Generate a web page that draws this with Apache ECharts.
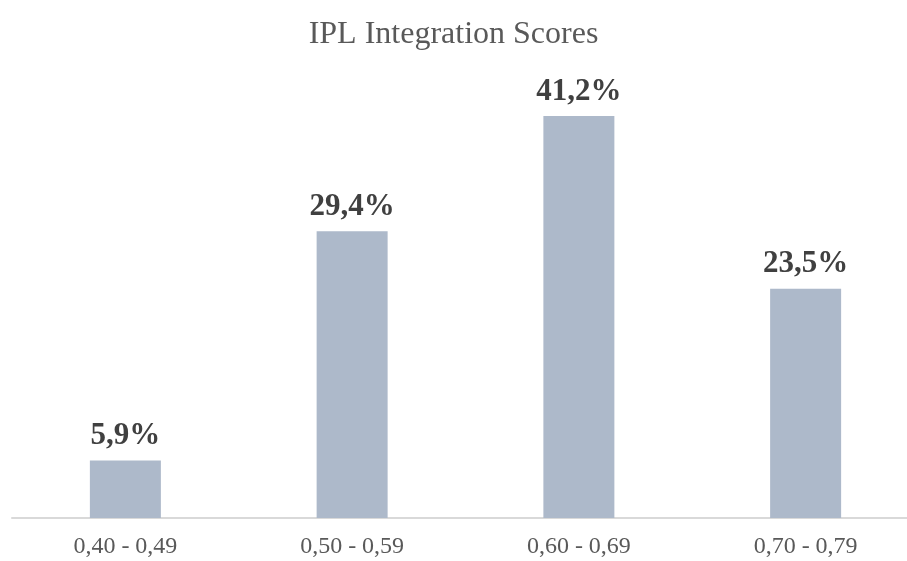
<!DOCTYPE html>
<html>
<head>
<meta charset="UTF-8">
<title>IPL Integration Scores</title>
<script src="https://cdn.jsdelivr.net/npm/echarts@6/dist/echarts.min.js"></script>
<style>
  html, body { margin: 0; padding: 0; background: #fff; }
</style>
</head>
<body>
<div id="container" style="width: 907px; height: 561px;"></div>
<script>
// score ranges and share of participants (%)
var categories = ['0,40 - 0,49', '0,50 - 0,59', '0,60 - 0,69', '0,70 - 0,79'];
var shares = [5.9, 29.4, 41.2, 23.5];

var chart = echarts.init(document.getElementById('container'));

var option = {
    animation: false,
    title: {
        text: 'IPL Integration Scores',
        left: 'center',
        top: 14,
        textStyle: {
            fontFamily: 'Liberation Serif',
            fontWeight: 'normal',
            fontSize: 32,
            color: '#595959'
        }
    },
    grid: {
        left: 12,
        right: -12,
        top: 79,
        bottom: 43,
        outerBoundsMode: 'none'
    },
    xAxis: {
        type: 'category',
        data: categories,
        axisLine: { lineStyle: { color: '#d9d9d9', width: 2 } },
        axisTick: { show: false },
        axisLabel: {
            fontFamily: 'Liberation Serif',
            fontSize: 24,
            color: '#595959',
            margin: 17
        }
    },
    yAxis: {
        type: 'value',
        min: 0,
        max: 45,
        show: false
    },
    series: [{
        type: 'bar',
        data: shares,
        barWidth: 71,
        itemStyle: { color: '#adb9ca' },
        label: {
            show: true,
            position: 'top',
            distance: 9,
            formatter: function (p) {
                return p.value.toFixed(1).replace('.', ',') + '%';
            },
            fontFamily: 'Liberation Serif',
            fontWeight: 'bold',
            fontSize: 31,
            color: '#404040'
        }
    }]
};

chart.setOption(option);
</script>
</body>
</html>
